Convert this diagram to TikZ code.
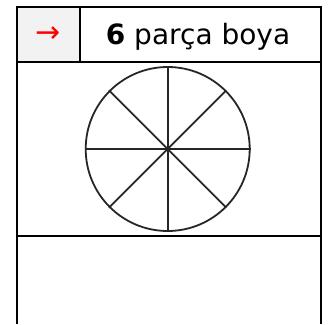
\documentclass[tikz,border=0pt]{standalone}
\usepackage{fontspec}
\setmainfont{DejaVu Sans}
\begin{document}
\begin{tikzpicture}[x=1pt,y=-1pt,
	rule/.style={line width=2.4pt,black},
	spoke/.style={line width=1.8pt,black!85},
	every node/.style={inner sep=0pt}]
	\useasboundingbox (0,0) rectangle (334,324);
	% header cells and table rules
	\fill[black!5] (17,7) rectangle (80,62);
	\draw[rule] (17,324) -- (17,7) -- (321,7) -- (321,324);
	\draw[rule] (17,62) -- (321,62);
	\draw[rule] (80,7) -- (80,62);
	\draw[rule] (17,236) -- (321,236);
	\node[red, font=\fontsize{30}{34}\selectfont] (arrow) at (48,35) {→};
	\node[anchor=base, font=\fontsize{28}{32}\selectfont] (title) at (198,44) {\textbf{6} parça boya};
	% the disc with its spokes
	\node[circle, draw=black!85, line width=1.8pt, minimum size=164pt] (disc) at (167.7,149) {};
	\foreach \a in {0,45,...,315}
		\draw[spoke] (disc.center) -- (disc.\a);
\end{tikzpicture}
\end{document}
